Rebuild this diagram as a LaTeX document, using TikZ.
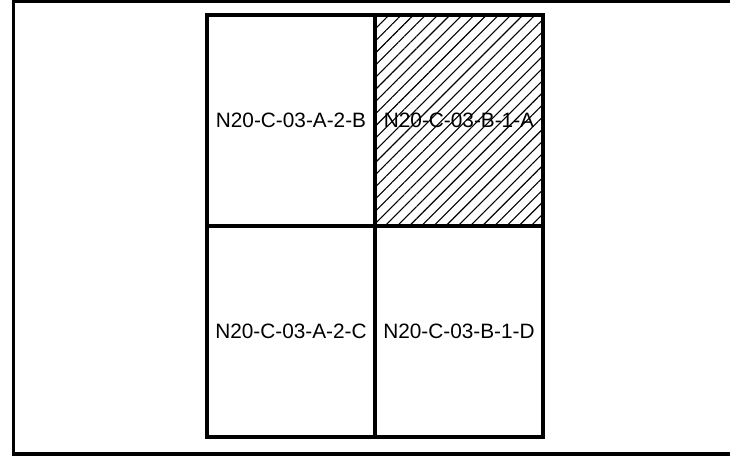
\documentclass[tikz,border=0pt]{standalone}
\usepackage{fontspec}
\setmainfont{Liberation Sans}
\usepackage{tikz}
\usetikzlibrary{patterns.meta,positioning}
\tikzset{
  lframe/.style={draw, line width=3.2pt},
  lcell/.style={draw, line width=3.6pt, minimum width=168pt, minimum height=211pt, inner sep=0pt, align=center, font=\fontsize{20.8}{24}\selectfont},
  lcellhatch/.style={lcell, pattern={Lines[angle=45, distance=8.6pt, line width=1.1pt]}}
}
\begin{document}
\begin{tikzpicture}[x=1pt,y=1pt]
\useasboundingbox (0,0) rectangle (730,-465);
\clip (0,0) rectangle (730,-465);
\draw[lframe] (13.5,-1) rectangle (745,-454);

\node[lcell] (c1) at (291,-120.5) {N20-C-03-A-2-B};
\node[lcellhatch] (c2) at (459,-120.5) {N20-C-03-B-1-A};
\node[lcell] (c3) at (291,-331.5) {N20-C-03-A-2-C};
\node[lcell] (c4) at (459,-331.5) {N20-C-03-B-1-D};
\end{tikzpicture}
\end{document}
